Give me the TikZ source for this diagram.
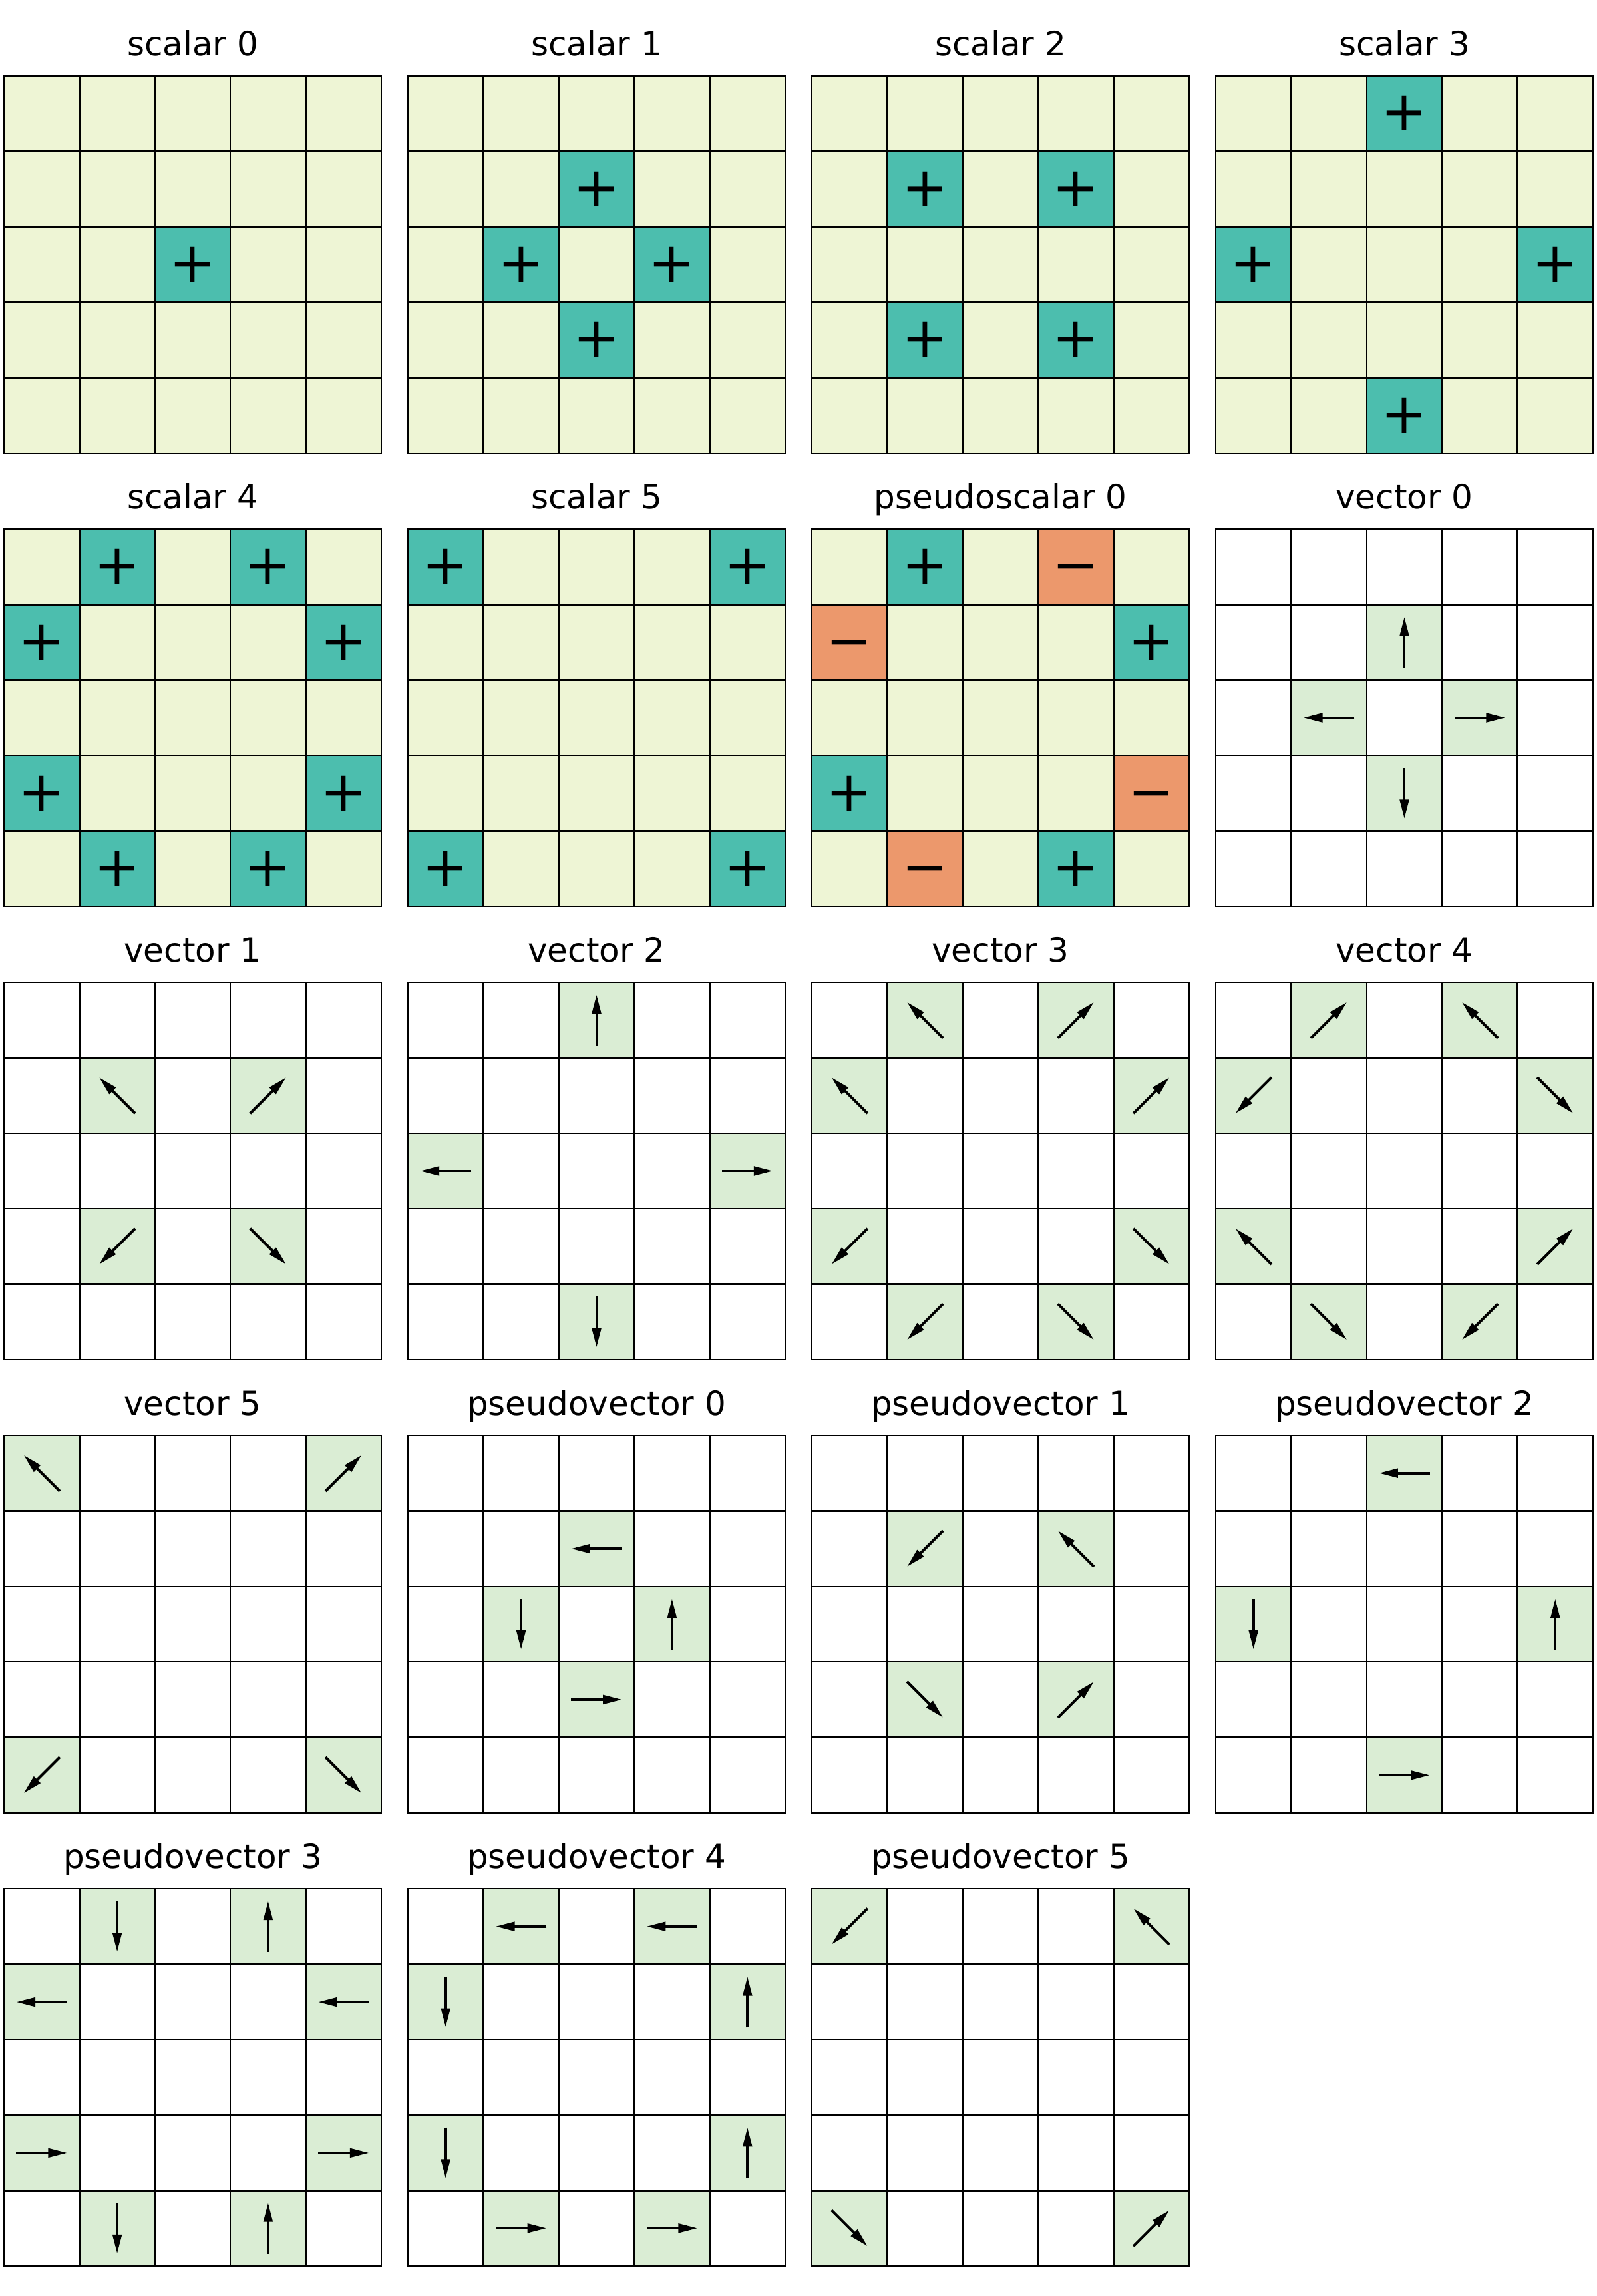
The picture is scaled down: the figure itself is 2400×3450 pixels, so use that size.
\documentclass[tikz,border=0pt]{standalone}
\usepackage{fontspec}
\setmainfont{DejaVu Sans}
\usetikzlibrary{arrows.meta}
\definecolor{cellpale}{RGB}{238,245,213}
\definecolor{plusteal}{RGB}{76,190,174}
\definecolor{minusorange}{RGB}{236,152,108}
\definecolor{arrowgreen}{RGB}{218,237,212}

\begin{document}
\begin{tikzpicture}[x=0.24pt, y=0.24pt]
\tikzstyle{paneltitle}=[anchor=base, inner sep=0pt, font=\fontsize{12}{14}\selectfont]
\tikzstyle{sign}=[inner sep=0pt, font=\fontsize{20}{24}\selectfont]
\tikzstyle{gridline}=[line width=0.55pt, line cap=rect]
\tikzstyle{vec}=[line width=0.95pt, -{Triangle[length=6.9pt, width=3.2pt]}]
\useasboundingbox (0,0) rectangle (2400,3450);

% panel backgrounds and titles (4 per row)
\foreach \ttl/\bg [count=\k from 0] in {scalar 0/cellpale, scalar 1/cellpale,
    scalar 2/cellpale, scalar 3/cellpale, scalar 4/cellpale, scalar 5/cellpale,
    pseudoscalar 0/cellpale, vector 0/white, vector 1/white, vector 2/white,
    vector 3/white, vector 4/white, vector 5/white, pseudovector 0/white,
    pseudovector 1/white, pseudovector 2/white, pseudovector 3/white,
    pseudovector 4/white, pseudovector 5/white} {
  \pgfmathsetmacro\px{6+607*mod(\k,4)}
  \pgfmathsetmacro\py{3336-681*floor(\k/4)}
  \fill[\bg] (\px,\py) rectangle ++(567,-567);
  \node[paneltitle] (title\k) at (\px+283.5,\py+30) {\ttl};
}

% plus cells: panel/col/row
\foreach \k/\i/\j in {0/2/2,
    1/2/1, 1/1/2, 1/3/2, 1/2/3,
    2/1/1, 2/3/1, 2/1/3, 2/3/3,
    3/2/0, 3/0/2, 3/4/2, 3/2/4,
    4/1/0, 4/3/0, 4/0/1, 4/4/1, 4/0/3, 4/4/3, 4/1/4, 4/3/4,
    5/0/0, 5/4/0, 5/0/4, 5/4/4,
    6/1/0, 6/4/1, 6/0/3, 6/3/4} {
  \pgfmathsetmacro\cx{6+607*mod(\k,4)+113.4*(\i+0.5)}
  \pgfmathsetmacro\cy{3336-681*floor(\k/4)-113.4*(\j+0.5)}
  \fill[plusteal] (\cx-56.7,\cy-56.7) rectangle ++(113.4,113.4);
  \node[sign] (plus\k-\i-\j) at (\cx,\cy) {+};
}

% minus cells
\foreach \k/\i/\j in {6/3/0, 6/0/1, 6/4/3, 6/1/4} {
  \pgfmathsetmacro\cx{6+607*mod(\k,4)+113.4*(\i+0.5)}
  \pgfmathsetmacro\cy{3336-681*floor(\k/4)-113.4*(\j+0.5)}
  \fill[minusorange] (\cx-56.7,\cy-56.7) rectangle ++(113.4,113.4);
  \node[sign] (minus\k-\i-\j) at (\cx,\cy) {\vphantom{+}−};
}

% arrow cells: panel/col/row/angle
\foreach \k/\i/\j/\a in {7/2/1/90, 7/1/2/180, 7/3/2/0, 7/2/3/270,
    8/1/1/135, 8/3/1/45, 8/1/3/225, 8/3/3/315,
    9/2/0/90, 9/0/2/180, 9/4/2/0, 9/2/4/270,
    10/1/0/135, 10/3/0/45, 10/0/1/135, 10/4/1/45,
    10/0/3/225, 10/4/3/315, 10/1/4/225, 10/3/4/315,
    11/1/0/45, 11/3/0/135, 11/0/1/225, 11/4/1/315,
    11/0/3/135, 11/4/3/45, 11/1/4/315, 11/3/4/225,
    12/0/0/135, 12/4/0/45, 12/0/4/225, 12/4/4/315,
    13/2/1/180, 13/1/2/270, 13/3/2/90, 13/2/3/0,
    14/1/1/225, 14/3/1/135, 14/1/3/315, 14/3/3/45,
    15/2/0/180, 15/0/2/270, 15/4/2/90, 15/2/4/0,
    16/1/0/270, 16/3/0/90, 16/0/1/180, 16/4/1/180,
    16/0/3/0, 16/4/3/0, 16/1/4/270, 16/3/4/90,
    17/1/0/180, 17/3/0/180, 17/0/1/270, 17/4/1/90,
    17/0/3/270, 17/4/3/90, 17/1/4/0, 17/3/4/0,
    18/0/0/225, 18/4/0/135, 18/0/4/315, 18/4/4/45} {
  \pgfmathsetmacro\cx{6+607*mod(\k,4)+113.4*(\i+0.5)}
  \pgfmathsetmacro\cy{3336-681*floor(\k/4)-113.4*(\j+0.5)}
  \pgfmathsetmacro\b{\a+180}
  \fill[arrowgreen] (\cx-56.7,\cy-56.7) rectangle ++(113.4,113.4);
  \coordinate (cell\k-\i-\j) at (\cx,\cy);
  \draw[vec] (cell\k-\i-\j) ++(\b:38.3) -- ++(\a:76.6);
}

% 5x5 grid lines
\foreach \k in {0,...,18} {
  \pgfmathsetmacro\px{6+607*mod(\k,4)}
  \pgfmathsetmacro\py{3336-681*floor(\k/4)}
  \foreach \m in {0,...,5} {
    \draw[gridline] (\px+113.4*\m,\py) -- ++(0,-567);
    \draw[gridline] (\px,\py-113.4*\m) -- ++(567,0);
  }
}
\end{tikzpicture}
\end{document}
